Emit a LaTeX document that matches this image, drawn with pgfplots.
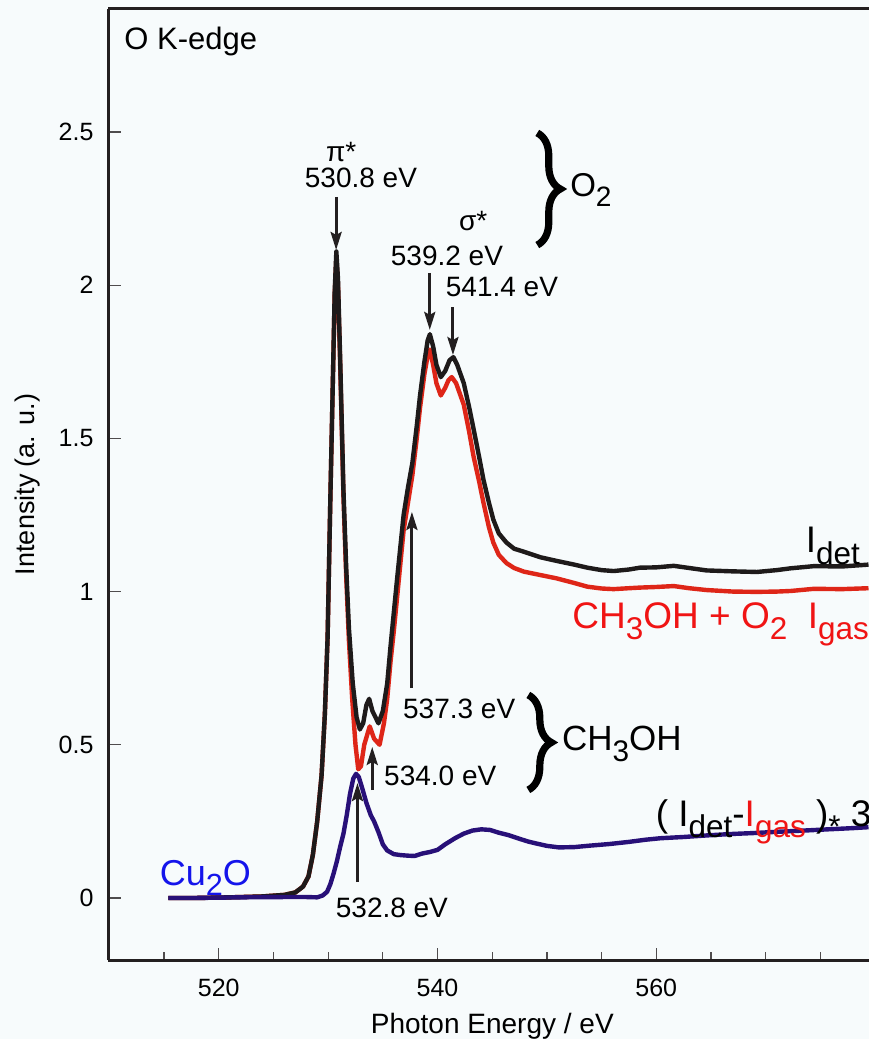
\documentclass[border=0pt]{standalone}
\usepackage{fontspec}
\setmainfont{Liberation Sans}
\usepackage{pgfplots}
\usepackage{pgfplotstable}
\pgfplotsset{compat=1.18}
\usetikzlibrary{arrows.meta,decorations.pathreplacing}

\definecolor{bgcol}{RGB}{247,251,252}
\definecolor{axcol}{RGB}{35,31,32}
\definecolor{detcol}{RGB}{30,26,26}
\definecolor{gascol}{RGB}{222,38,24}
\definecolor{difcol}{RGB}{40,16,120}
\definecolor{cucol}{RGB}{20,20,235}
\definecolor{redtxt}{RGB}{240,20,20}

\newcommand{\fs}[1]{\fontsize{#1}{#1}\selectfont}
\newcommand{\sub}[1]{\raisebox{-0.3em}{\scalebox{0.85}{#1}}}

\tikzset{
    arr/.style={line width=1.5pt, color=axcol, -{Stealth[length=9pt,width=5.5pt,inset=1.5pt]}},
    brc/.style={decorate, decoration={brace, amplitude=11.5pt}, line width=3.6pt, color=black},
}

% I_det (O2 + CH3OH, detector)
\pgfplotstableread{
x y
515.4 0.000
518.0 0.000
521.0 0.002
524.0 0.005
526.0 0.010
527.0 0.018
527.7 0.037
528.2 0.070
528.6 0.140
529.0 0.250
529.4 0.400
529.7 0.600
529.95 0.850
530.2 1.300
530.45 1.720
530.6 1.980
530.75 2.110
530.9 2.020
531.1 1.760
531.4 1.330
531.65 1.080
531.9 0.880
532.25 0.700
532.6 0.590
532.9 0.550
533.2 0.570
533.5 0.630
533.75 0.650
534.05 0.610
534.6 0.570
535.0 0.610
535.4 0.700
535.7 0.820
536.0 0.930
536.3 1.040
536.9 1.250
537.3 1.340
537.7 1.420
538.1 1.540
538.4 1.640
538.8 1.750
539.1 1.820
539.3 1.840
539.6 1.800
539.9 1.740
540.3 1.700
540.7 1.720
541.1 1.755
541.45 1.765
541.8 1.740
542.4 1.680
542.9 1.600
543.3 1.530
543.8 1.440
544.2 1.365
544.7 1.290
545.1 1.235
545.6 1.190
546.3 1.160
547.0 1.140
547.9 1.130
549.4 1.112
550.9 1.100
552.5 1.088
553.7 1.078
555.0 1.070
556.1 1.067
557.5 1.072
558.5 1.078
560.0 1.079
561.6 1.084
563.0 1.077
564.6 1.069
567.0 1.066
569.2 1.064
571.0 1.070
572.3 1.076
574.4 1.083
577.0 1.082
579.4 1.088
}\detdata

% I_gas
\pgfplotstableread{
x y
515.4 0.000
518.0 0.000
521.0 0.002
524.0 0.005
526.0 0.010
527.0 0.018
527.7 0.037
528.2 0.070
528.6 0.140
529.0 0.250
529.4 0.400
529.7 0.600
529.95 0.850
530.2 1.300
530.45 1.720
530.6 1.970
530.75 2.090
530.9 2.000
531.1 1.740
531.4 1.310
531.65 1.050
531.9 0.840
532.2 0.650
532.5 0.500
532.75 0.420
533.0 0.430
533.3 0.500
533.8 0.560
534.2 0.520
534.7 0.500
535.1 0.570
535.4 0.650
535.7 0.770
536.0 0.870
536.3 0.980
536.9 1.200
537.3 1.290
537.7 1.380
538.1 1.500
538.4 1.600
538.8 1.710
539.1 1.770
539.3 1.790
539.6 1.740
539.9 1.680
540.3 1.640
540.7 1.665
541.0 1.690
541.3 1.700
541.7 1.680
542.4 1.610
542.9 1.520
543.3 1.440
543.8 1.360
544.2 1.290
544.7 1.210
545.1 1.160
545.6 1.120
546.3 1.093
547.0 1.077
547.9 1.065
549.4 1.054
550.9 1.043
552.5 1.028
553.7 1.016
555.0 1.010
556.1 1.008
557.5 1.011
558.5 1.013
560.0 1.015
561.6 1.018
563.0 1.011
564.6 1.005
567.0 1.000
569.2 0.999
571.0 1.000
572.3 1.002
574.4 1.009
577.0 1.008
579.4 1.011
}\gasdata

% (I_det - I_gas) * 3, Cu2O
\pgfplotstableread{
x y
515.4 0.000
518.0 0.000
522.0 0.002
526.0 0.003
528.0 0.003
529.0 0.002
529.5 0.008
529.9 0.020
530.2 0.045
530.5 0.080
530.8 0.120
531.1 0.167
531.4 0.210
531.7 0.270
532.0 0.340
532.3 0.390
532.55 0.405
532.8 0.395
533.1 0.360
533.5 0.310
533.9 0.270
534.2 0.250
534.6 0.215
535.0 0.175
535.4 0.155
536.0 0.143
536.6 0.140
537.3 0.138
537.9 0.137
538.6 0.145
539.3 0.150
540.0 0.157
540.7 0.175
541.6 0.195
542.4 0.210
543.2 0.220
544.0 0.224
544.8 0.222
545.6 0.213
546.5 0.205
547.5 0.193
548.3 0.184
549.0 0.178
550.0 0.170
551.1 0.165
552.5 0.166
554.0 0.171
555.7 0.176
557.5 0.183
559.0 0.190
560.4 0.195
562.5 0.199
565.0 0.205
567.0 0.209
569.0 0.212
571.1 0.216
573.5 0.220
575.7 0.224
578.0 0.228
579.4 0.231
}\difdata

\begin{document}
\begin{tikzpicture}
\path[use as bounding box, fill=bgcol] (-54.25pt,-39.5pt) rectangle (380pt,480pt);
\begin{axis}[
    at={(0,0)}, anchor=south west,
    scale only axis, width=380pt, height=475.5pt,
    xmin=509.92, xmax=579.4, ymin=-0.2025, ymax=2.9015,
    clip=false,
    axis x line*=bottom, axis y line*=left,
    axis line style={line width=1.5pt, color=axcol, -},
    xtick={520,540,560},
    minor xtick={515,525,530,535,545,550,555,565,570,575},
    ytick={0,0.5,1,1.5,2,2.5},
    yticklabels={0,0.5,1,1.5,2,2.5},
    tick align=inside,
    major tick length=6pt, minor tick length=3.8pt,
    tick style={color=axcol!80, line width=0.6pt},
    /pgf/number format/assume math mode=true,
    ticklabel style={font=\fs{12.5}, color=black},
    xticklabel style={yshift=-6pt},
    yticklabel style={xshift=-4pt},
    xlabel={Photon Energy / eV},
    xlabel style={font=\fs{14}, at={(axis description cs:0.505,0)}, anchor=north, inner sep=0pt, yshift=-26.5pt},
    ylabel={Intensity (a. u.)},
    ylabel style={font=\fs{13.5}, at={(axis description cs:-0.1072,0.5)}, anchor=center, inner sep=0pt},
]
\addplot[gascol, line width=2.2pt, line join=round] table[x=x,y=y] {\gasdata};
\addplot[detcol, line width=2.2pt, line join=round] table[x=x,y=y] {\detdata};
\addplot[difcol, line width=2.2pt, line join=round] table[x=x,y=y] {\difdata};

\draw[line width=1.5pt, axcol] (rel axis cs:0,1) -- (rel axis cs:1,1);

\node[anchor=west, inner sep=0pt, font=\fs{15.5}] at (axis cs:511.34,2.794) {O K-edge};

% O2 features
\node[font=\fs{14}] at (axis cs:531.19,2.436) {π*};
\node[font=\fs{14}] at (axis cs:533.0,2.350) {530.8 eV};
\draw[arr] (axis cs:530.73,2.288) -- (axis cs:530.73,2.115);
\node[font=\fs{14}] at (axis cs:543.27,2.21) {σ*};
\node[font=\fs{14}] at (axis cs:540.86,2.095) {539.2 eV};
\node[font=\fs{14}] at (axis cs:545.89,1.994) {541.4 eV};
\draw[arr] (axis cs:539.29,2.040) -- (axis cs:539.29,1.854);
\draw[arr] (axis cs:541.41,1.928) -- (axis cs:541.41,1.772);
\draw[brc] (axis cs:549.12,2.497) -- (axis cs:549.12,2.131);
\node[anchor=west, inner sep=0pt, font=\fs{16.5}] at (axis cs:552.1,2.311) {O\sub{2}};

% CH3OH features
\node[font=\fs{14}] at (axis cs:541.98,0.617) {537.3 eV};
\draw[arr] (axis cs:537.66,0.685) -- (axis cs:537.66,1.260);
\node[font=\fs{14}] at (axis cs:540.25,0.398) {534.0 eV};
\draw[arr] (axis cs:534.03,0.352) -- (axis cs:534.03,0.493);
\node[font=\fs{14}] at (axis cs:535.83,-0.033) {532.8 eV};
\draw[arr] (axis cs:532.68,0.052) -- (axis cs:532.68,0.375);
\draw[brc] (axis cs:548.3,0.6625) -- (axis cs:548.3,0.3525);
\node[anchor=west, inner sep=0pt, font=\fs{17.5}] at (axis cs:551.35,0.503) {CH\sub{3}OH};

% curve labels
\node[anchor=base west, inner sep=0pt, font=\fs{18.5}] at (axis cs:573.64,1.126) {I\sub{det}};
\node[anchor=base west, inner sep=0pt, font=\fs{18.5}, text=redtxt] at (axis cs:552.3,0.880) {CH\sub{3}OH + O\sub{2}\ \ I\sub{gas}};
\node[anchor=base west, inner sep=0pt, font=\fs{18.5}] at (axis cs:559.92,0.2325) {( I\sub{det}-\textcolor{redtxt}{I\sub{gas}} )\sub{*} 3};
\node[anchor=base west, inner sep=0pt, font=\fs{18}, text=cucol] at (axis cs:514.57,0.042) {Cu\sub{2}O};
\end{axis}
\end{tikzpicture}
\end{document}
